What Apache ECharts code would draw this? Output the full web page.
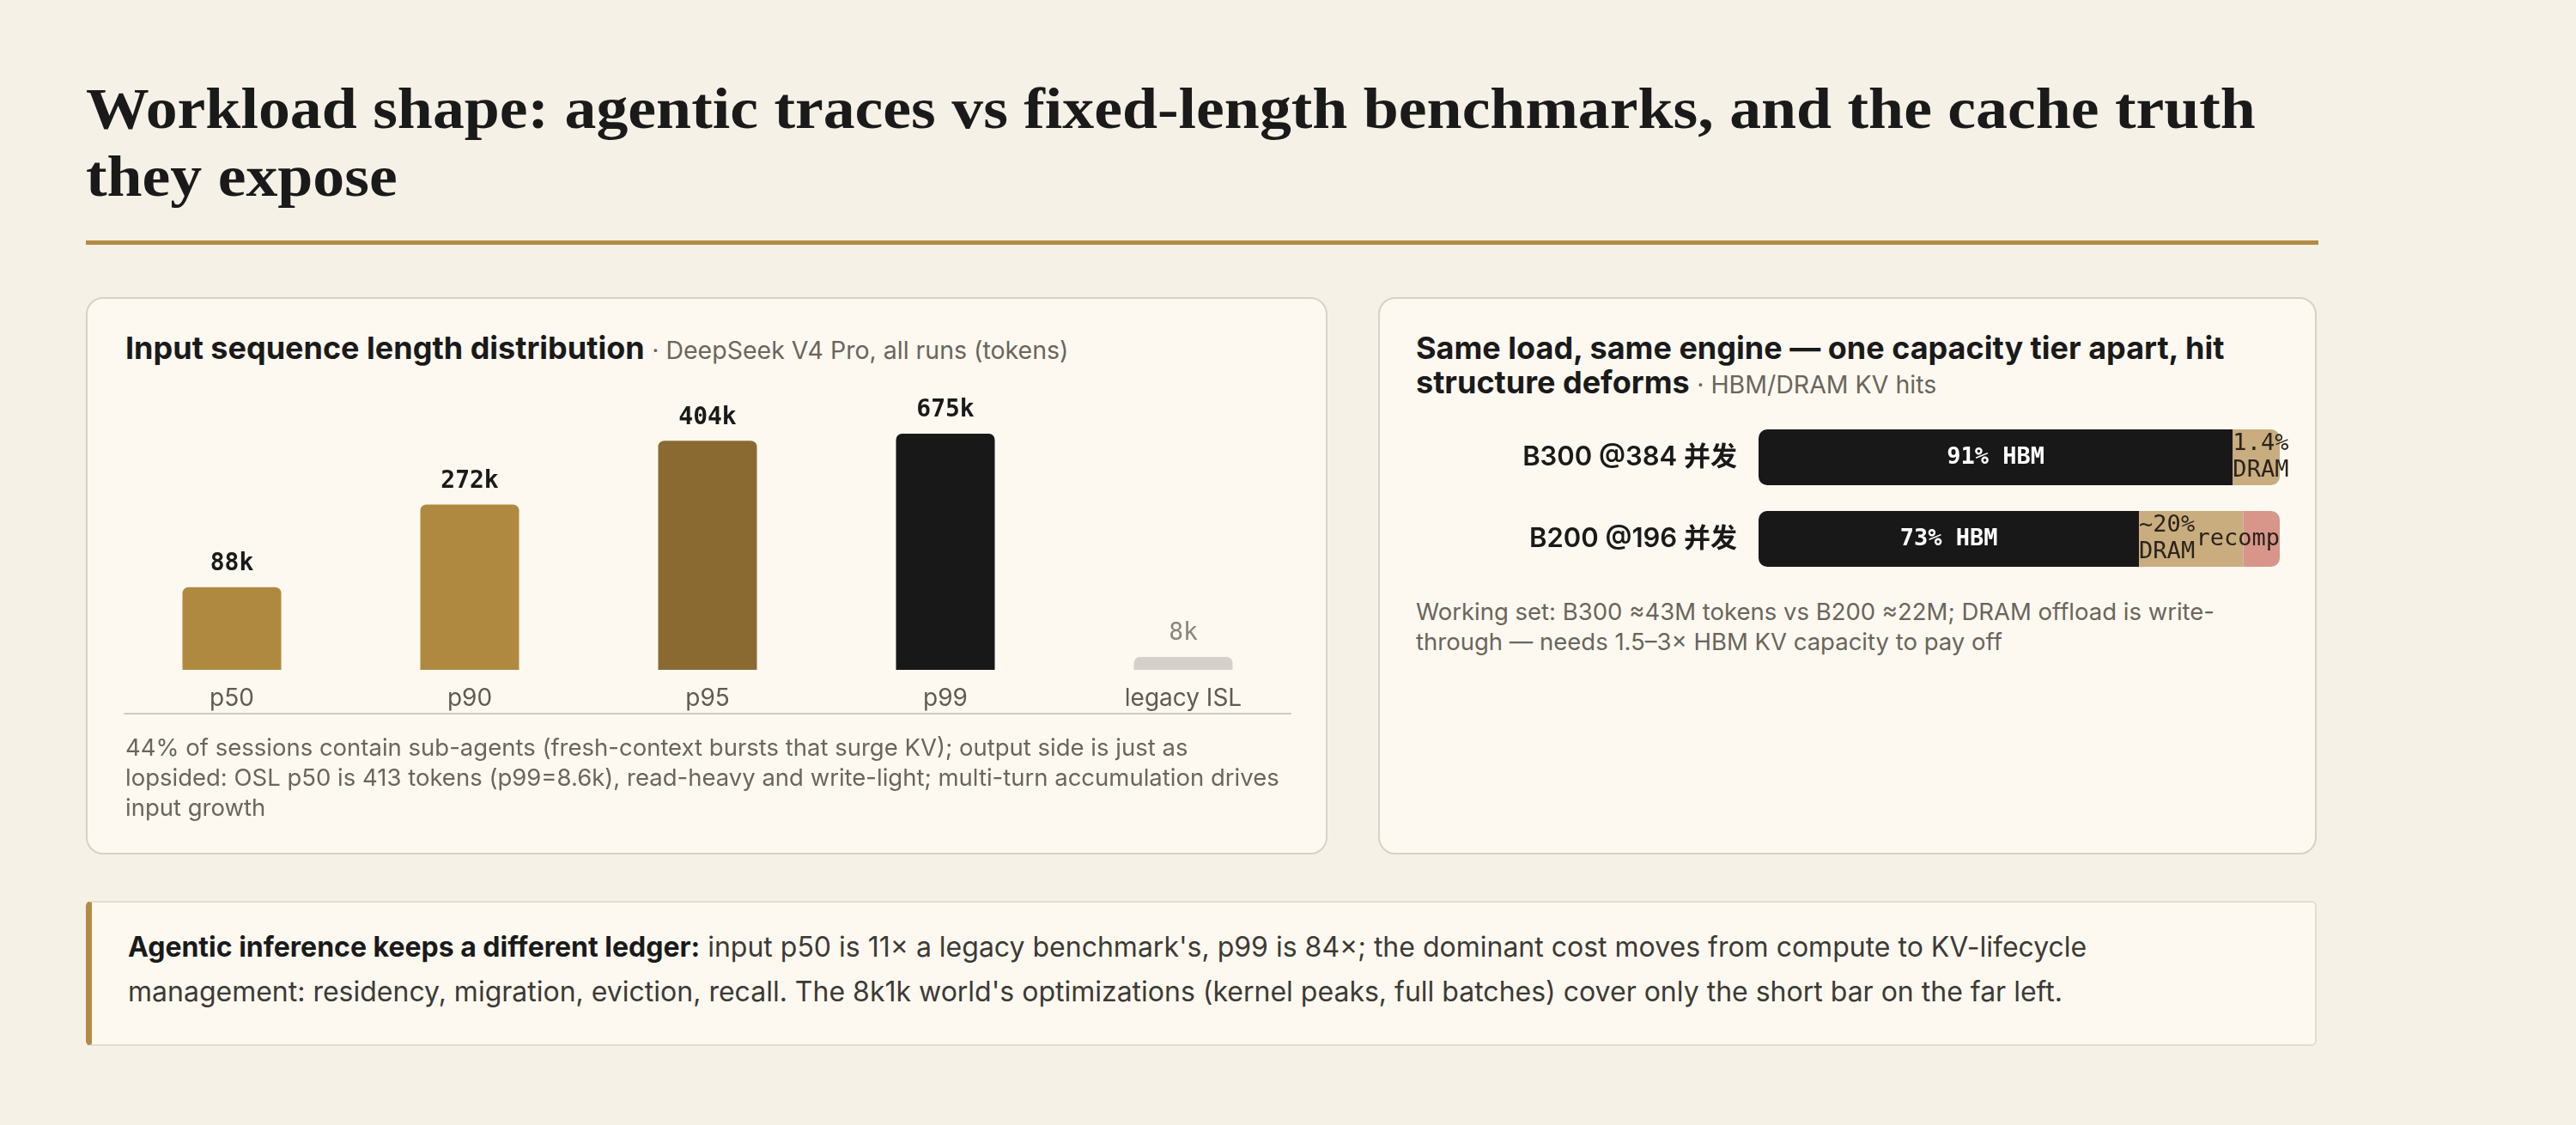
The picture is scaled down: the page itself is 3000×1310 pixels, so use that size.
<!DOCTYPE html>
<html>
<head>
<meta charset="utf-8">
<script src="https://cdn.jsdelivr.net/npm/echarts@6/dist/echarts.min.js"></script>
<style>
html,body{margin:0;padding:0;}
body{width:3000px;height:1310px;background:#F5F1E7;position:relative;overflow:hidden;font-family:Inter,"Noto Sans CJK SC",sans-serif;color:#1a1a1a;}
.abs{position:absolute;}
h1{position:absolute;left:100px;top:87px;width:2400px;margin:0;font:700 68px/79px "Liberation Serif",serif;color:#1a1a1a;transform:scaleX(1.085);transform-origin:0 0;}
.rule{left:100px;top:280px;width:2600px;height:5px;background:#B38B45;}
.card{background:#FDF9F1;border:2px solid #D8D2C5;border-radius:20px;box-sizing:border-box;}
.ctitle{font-weight:700;font-size:36px;line-height:40px;color:#1a1a1a;}
.ctitle span{font-weight:400;font-size:28.5px;color:#6B655B;}
.note{font-size:27.5px;line-height:35px;color:#6B655B;}
.callout{background:#FDF9F1;border:2px solid #E3DDD1;border-left:7px solid #B38B45;border-radius:6px;box-sizing:border-box;}
.callout-txt{font-size:32px;line-height:52px;color:#3D3A35;}
.callout-txt b{color:#1a1a1a;font-weight:700;}
</style>
</head>
<body>
<h1>Workload shape: agentic traces vs fixed-length benchmarks, and the cache truth they expose</h1>
<div class="abs rule"></div>

<div class="abs card" style="left:100px;top:346px;width:1446px;height:649px;"></div>
<div class="abs card" style="left:1605px;top:346px;width:1093px;height:649px;"></div>
<div class="abs callout" style="left:100px;top:1049px;width:2598px;height:169px;"></div>

<div class="abs ctitle" style="left:146px;top:385px;width:1356px;">Input sequence length distribution <span>· DeepSeek V4 Pro, all runs (tokens)</span></div>
<div class="abs" id="islChart" style="left:100px;top:440px;width:1446px;height:420px;"></div>
<div class="abs note" style="left:146px;top:853px;width:1354px;">44% of sessions contain sub-agents (fresh-context bursts that surge KV); output side is just as lopsided: OSL p50 is 413 tokens (p99=8.6k), read-heavy and write-light; multi-turn accumulation drives input growth</div>

<div class="abs ctitle" style="left:1649px;top:385px;width:1003px;">Same load, same engine — one capacity tier apart, hit structure deforms <span>· HBM/DRAM KV hits</span></div>
<div class="abs" id="hitChart" style="left:1605px;top:470px;width:1093px;height:220px;"></div>
<div class="abs note" style="left:1649px;top:695px;width:990px;">Working set: B300 ≈43M tokens vs B200 ≈22M; DRAM offload is write-through — needs 1.5–3× HBM KV capacity to pay off</div>

<div class="abs callout-txt" style="left:149px;top:1077px;width:2480px;"><b>Agentic inference keeps a different ledger:</b> input p50 is 11× a legacy benchmark's, p99 is 84×; the dominant cost moves from compute to KV-lifecycle management: residency, migration, eviction, recall. The 8k1k world's optimizations (kernel peaks, full batches) cover only the short bar on the far left.</div>

<script>
// ── 左：输入序列长度分布 ──
var pctLabels = ['p50', 'p90', 'p95', 'p99', 'legacy ISL'];
var islK = [88, 272, 404, 675, 8];            // 标注值 (k tokens)
var barShare = [35, 70, 97, 100, 5.5];        // 图中柱高（占最高柱的百分比）

// ── 右：HBM/DRAM 命中结构 ──
var gpuRows = ['B300 @384 并发', 'B200 @196 并发'];
var hbmHit = [91, 73];
var dramHit = [9, 20];
var recompShare = [0, 7];
var hbmText = ['91% HBM', '73% HBM'];
var dramText = ['1.4%\nDRAM', '~20%\nDRAM'];
var recompText = ['', 'recomp'];

var barColors = ['#B08940', '#B08940', '#8A6A31', '#181818', '#D5D0C9'];
var SANS = 'Inter, "Noto Sans CJK SC", sans-serif';
var MONO = '"DejaVu Sans Mono", monospace';

function buildIslOpt() {
  var data = barShare.map(function (v, i) {
    var d = { value: v, itemStyle: { color: barColors[i], borderRadius: [7, 7, 0, 0] } };
    if (i === barShare.length - 1) d.label = { color: '#8A847A', fontWeight: 'normal' };
    return d;
  });
  return {
    animation: false,
    // grid 0: 柱子与类目标签；grid 1: 仅底部分隔线（比柱区略窄）
    grid: [
      { left: 31.5, top: 65, width: 1385, height: 275 },
      { left: 45, top: 65, width: 1358, height: 275 }
    ],
    xAxis: [{
      type: 'category', data: pctLabels, offset: 51, gridIndex: 0,
      axisTick: { show: false },
      axisLine: { show: false },
      axisLabel: { inside: true, margin: 3, fontSize: 28, color: '#5F5A52', fontFamily: SANS }
    }, {
      type: 'category', data: pctLabels, offset: 51, gridIndex: 1,
      axisTick: { show: false }, axisLabel: { show: false },
      axisLine: { onZero: false, lineStyle: { color: '#CFC9BE', width: 2 } }
    }],
    yAxis: [
      { type: 'value', min: 0, max: 100, show: false, gridIndex: 0 },
      { type: 'value', min: 0, max: 100, show: false, gridIndex: 1 }
    ],
    series: [{
      type: 'bar', barWidth: 115, data: data,
      label: {
        show: true, position: 'top', distance: 13,
        fontFamily: MONO, fontSize: 28, fontWeight: 'bold', color: '#1a1a1a',
        formatter: function (p) { return islK[p.dataIndex] + 'k'; }
      }
    }]
  };
}

function buildHitOpt() {
  var segs = [hbmHit, dramHit, recompShare];
  var segColors = ['#181818', '#C9AD7F', '#D8968B'];
  var segText = [hbmText, dramText, recompText];
  var segLabel = [
    { position: 'inside', color: '#FFFFFF', fontWeight: 'bold' },
    { position: 'insideLeft', distance: 0, color: '#2A241A', lineHeight: 31 },
    { position: 'insideRight', distance: 0, color: '#2A241A' }
  ];
  var series = segs.map(function (arr, s) {
    return {
      type: 'bar', stack: 'hit', barWidth: 65,
      itemStyle: { color: segColors[s] },
      label: Object.assign({
        show: true, fontFamily: MONO, fontSize: 27,
        formatter: function (p) { return segText[s][p.dataIndex]; }
      }, segLabel[s]),
      data: arr.map(function (v, r) {
        var first = -1, last = -1;
        segs.forEach(function (a, k) { if (a[r] > 0) { if (first < 0) first = k; last = k; } });
        var rad = [s === first ? 10 : 0, s === last ? 10 : 0, s === last ? 10 : 0, s === first ? 10 : 0];
        return { value: v, itemStyle: { borderRadius: rad } };
      })
    };
  });
  return {
    animation: false,
    grid: { left: 443, right: 43, top: 15, height: 190 },
    xAxis: { type: 'value', min: 0, max: 100, show: false },
    yAxis: {
      type: 'category', data: gpuRows, inverse: true,
      axisLine: { show: false }, axisTick: { show: false },
      axisLabel: { margin: 25, fontSize: 31, fontWeight: 600, color: '#1a1a1a', fontFamily: SANS }
    },
    series: series
  };
}

echarts.init(document.getElementById('islChart')).setOption(buildIslOpt());
echarts.init(document.getElementById('hitChart')).setOption(buildHitOpt());
</script>
</body>
</html>
